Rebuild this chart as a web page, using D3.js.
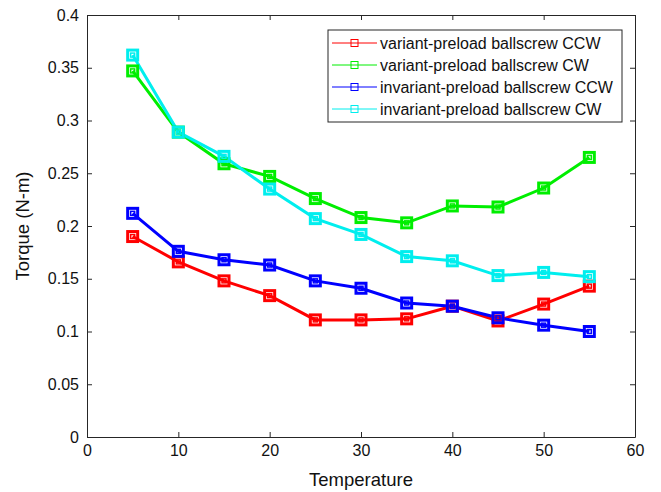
<!DOCTYPE html>
<html>
<head>
<meta charset="utf-8">
<script src="https://cdn.jsdelivr.net/npm/d3@7"></script>
<style>
  body { margin: 0; background: #fff; }
  svg { font-family: "Liberation Sans", Arial, sans-serif; }
  .axis path, .axis line { stroke: #262626; }
  .axis text { fill: #111; font-size: 16px; }
</style>
</head>
<body>
<div id="chart"></div>
<script>
var temps = [5, 10, 15, 20, 25, 30, 35, 40, 45, 50, 55];
var variantCCW = [0.190, 0.166, 0.148, 0.134, 0.111, 0.111, 0.112, 0.124, 0.110, 0.126, 0.143];
var variantCW = [0.347, 0.289, 0.259, 0.247, 0.226, 0.208, 0.203, 0.219, 0.218, 0.236, 0.265];
var invariantCCW = [0.212, 0.176, 0.168, 0.163, 0.148, 0.141, 0.127, 0.124, 0.113, 0.106, 0.100];
var invariantCW = [0.362, 0.289, 0.266, 0.235, 0.207, 0.192, 0.171, 0.167, 0.153, 0.156, 0.152];
var xTicks = [0, 10, 20, 30, 40, 50, 60];
var yTicks = [0, 0.05, 0.1, 0.15, 0.2, 0.25, 0.3, 0.35, 0.4];

var series = [
    {name: "variant-preload ballscrew CCW", values: variantCCW, color: "#ff0000"},
    {name: "variant-preload ballscrew CW", values: variantCW, color: "#00ee00"},
    {name: "invariant-preload ballscrew CCW", values: invariantCCW, color: "#0000ff"},
    {name: "invariant-preload ballscrew CW", values: invariantCW, color: "#00eeee"}
];

var W = 661, H = 492;
var margin = {top: 15, right: 26, bottom: 55, left: 87},
    width = W - margin.left - margin.right,
    height = H - margin.top - margin.bottom;

var x = d3.scaleLinear().domain([0, 60]).range([0, width]),
    y = d3.scaleLinear().domain([0, 0.4]).range([height, 0]);

var svg = d3.select("#chart").append("svg")
    .attr("width", W)
    .attr("height", H);

var g = svg.append("g")
    .attr("transform", "translate(" + margin.left + "," + margin.top + ")");

// box + axes (ticks inward like matlab)
var xAxis = d3.axisBottom(x).tickValues(xTicks).tickSizeInner(-5).tickSizeOuter(0).tickPadding(8),
    xAxisTop = d3.axisTop(x).tickValues(xTicks).tickSizeInner(-5).tickSizeOuter(0).tickFormat(""),
    yAxis = d3.axisLeft(y).tickValues(yTicks).tickSizeInner(-5).tickSizeOuter(0).tickPadding(8)
        .tickFormat(function (d) { return d === 0 ? "0" : String(+d.toFixed(2)); }),
    yAxisRight = d3.axisRight(y).tickValues(yTicks).tickSizeInner(-5).tickSizeOuter(0).tickFormat("");

g.append("g").attr("class", "axis").attr("transform", "translate(0," + height + ")").call(xAxis);
g.append("g").attr("class", "axis").call(xAxisTop);
g.append("g").attr("class", "axis").call(yAxis);
g.append("g").attr("class", "axis").attr("transform", "translate(" + width + ",0)").call(yAxisRight);

var line = d3.line()
    .x(function (d, i) { return x(temps[i]); })
    .y(function (d) { return y(d); });

series.forEach(function (s) {
    g.append("path")
        .datum(s.values)
        .attr("fill", "none")
        .attr("stroke", s.color)
        .attr("stroke-width", 3)
        .attr("d", line);
});

series.forEach(function (s) {
    var m = g.append("g").selectAll("g")
        .data(s.values)
        .enter().append("g")
        .attr("transform", function (d, i) { return "translate(" + x(temps[i]) + "," + y(d) + ")"; });
    m.append("rect")
        .attr("x", -5).attr("y", -5)
        .attr("width", 10).attr("height", 10)
        .attr("fill", "none")
        .attr("stroke", s.color)
        .attr("stroke-width", 3);
    m.append("rect")
        .attr("x", -2).attr("y", -2)
        .attr("width", 4).attr("height", 4)
        .attr("fill", "none")
        .attr("stroke", s.color)
        .attr("stroke-width", 1.5);
});

// legend
var legend = svg.append("g").attr("transform", "translate(328,30)");
legend.append("rect")
    .attr("width", 294).attr("height", 92)
    .attr("fill", "#fff")
    .attr("stroke", "#262626")
    .attr("stroke-width", 1);

series.forEach(function (s, i) {
    var row = legend.append("g").attr("transform", "translate(0," + (13 + i * 22) + ")");
    row.append("line")
        .attr("x1", 4).attr("x2", 49)
        .attr("stroke", s.color).attr("stroke-width", 1);
    row.append("rect")
        .attr("x", 23).attr("y", -3.5)
        .attr("width", 7).attr("height", 7)
        .attr("fill", "none").attr("stroke", s.color).attr("stroke-width", 1);
    row.append("text")
        .attr("x", 52).attr("dy", "0.35em")
        .attr("font-size", "16px")
        .attr("fill", "#111")
        .text(s.name);
});

// axis labels
svg.append("text")
    .attr("x", margin.left + width / 2)
    .attr("y", 486)
    .attr("text-anchor", "middle")
    .attr("font-size", "18.5px")
    .attr("fill", "#111")
    .text("Temperature");

svg.append("text")
    .attr("transform", "translate(29," + (margin.top + height / 2) + ") rotate(-90)")
    .attr("text-anchor", "middle")
    .attr("font-size", "18.5px")
    .attr("fill", "#111")
    .text("Torque (N-m)");
</script>
</body>
</html>
